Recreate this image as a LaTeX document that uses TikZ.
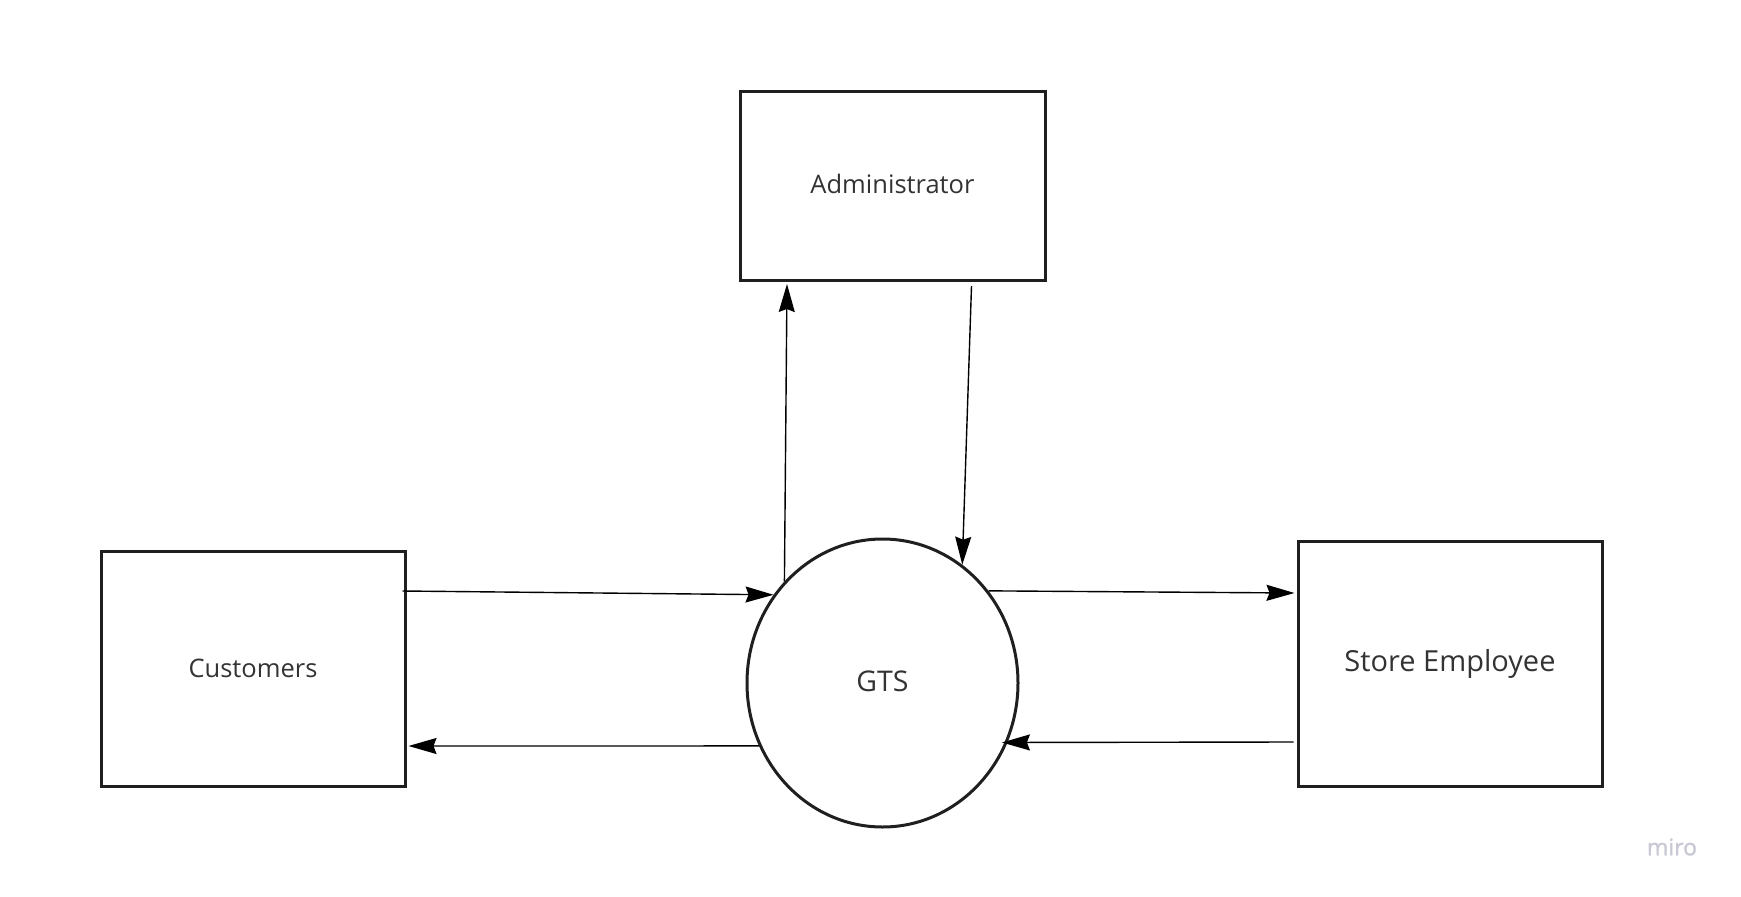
\documentclass[tikz,border=0pt]{standalone}
\usepackage{fontspec}
\setmainfont{Open Sans}
\newfontfamily\mirofont[FakeBold=1.2]{Open Sans}
\usetikzlibrary{arrows.meta,calc,shapes.geometric}
\definecolor{miroGray}{RGB}{200,201,212}
\begin{document}
\begin{tikzpicture}[x=1pt,y=-1pt,
  entity/.style={draw=black!88,line width=3pt,rectangle,inner sep=0pt,text=black!80,minimum width=304pt},
  flow/.style={draw=black,line width=1.4pt,-{Stealth[length=28pt,width=16pt,inset=3pt]}}]
\useasboundingbox (0,0) rectangle (1741,897);

%Entities
\node[entity,minimum width=305pt,minimum height=189pt,text height=19.4pt,text depth=4pt,font=\fontsize{25.5}{30}\selectfont] (admin) at (892.5,186) {Administrator};
\node[entity,minimum height=235pt,text height=19.4pt,text depth=2pt,font=\fontsize{25.5}{30}\selectfont] (cust) at (253,668.5) {Customers};
\node[entity,minimum height=245pt,font=\fontsize{29}{34}\selectfont] (store) at (1450,663.5) {Store Employee};

%Process
\node[draw=black!88,line width=3pt,ellipse,inner sep=0pt,minimum width=271pt,minimum height=288pt,text=black!80,text height=20.3pt,text depth=4pt,font=\fontsize{28.5}{34}\selectfont] (gts) at (882.5,683) {GTS};

%Flows
\draw[flow] ($(cust.east)+(-4,-77.5)$) -- (gts.141); \draw[flow] (gts.207) -- ($(cust.east)+(2,77.5)$);
\draw[flow] (gts.41) -- ($(store.west)+(-2,-70.5)$); \draw[flow] ($(store.west)+(-3,78.5)$) -- ($(gts.335)+(-6,1)$);
\draw[flow] (gts.134) -- ($(admin.south)+(-105.5,2)$); \draw[flow] ($(admin.south)+(79,4)$) -- (gts.56);

%Watermark
\node[text=miroGray,font=\mirofont\fontsize{23}{28}\selectfont] (miro) at (1672,847) {miro};

\end{tikzpicture}
\end{document}
